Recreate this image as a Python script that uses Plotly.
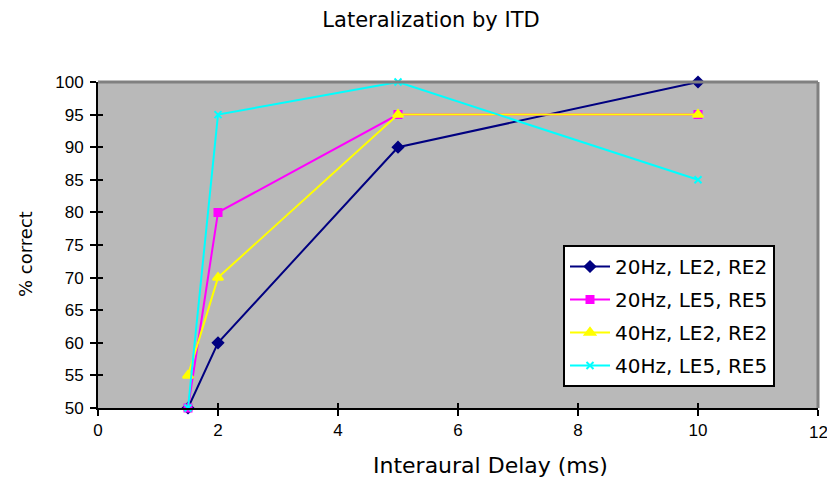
import plotly.graph_objects as go

x_vals = [1.5, 2, 5, 10]
s20_le2 = [50, 60, 90, 100]
s20_le5 = [50, 80, 95, 95]
s40_le2 = [55, 70, 95, 95]
s40_le5 = [50, 95, 100, 85]

x_ticks = [0, 2, 4, 6, 8, 10, 12]

names = ["20Hz, LE2, RE2", "20Hz, LE5, RE5", "40Hz, LE2, RE2", "40Hz, LE5, RE5"]
colors = ["#000080", "#ff00ff", "#ffff00", "#00ffff"]
symbols = ["diamond", "square", "triangle-up", "x-thin"]
sizes = [8, 7, 9, 7]
series = [s20_le2, s20_le5, s40_le2, s40_le5]

TXT = "DejaVu Sans, Verdana, sans-serif"
NUM = "Liberation Sans Narrow, Arial Narrow, Liberation Sans, sans-serif"

fig = go.Figure()
for i, (n, c, s, sz, y) in enumerate(zip(names, colors, symbols, sizes, series)):
    fig.add_trace(go.Scatter(
        x=x_vals, y=y, name=n, mode="lines+markers", legendgroup="g%d" % i,
        line=dict(color=c, width=2),
        marker=dict(symbol=s, size=sz, color=c, line=dict(color=c, width=2)),
        cliponaxis=False,
    ))

axis_common = dict(showgrid=False, zeroline=False, showline=True, linecolor="black",
                   linewidth=2, tickcolor="black", tickwidth=2, automargin=False)

L, R, T, B = 98, 9, 82, 83
PW, PH = 827 - L - R, 491 - T - B

fig.update_layout(
    width=827, height=491,
    margin=dict(l=L, r=R, t=T, b=B),
    paper_bgcolor="white",
    plot_bgcolor="#b9b9b9",
    font=dict(family=TXT, size=14, color="black"),
    title=dict(text="Lateralization by ITD", x=431/827, xanchor="center",
               y=1 - 20/491, yanchor="middle", font=dict(size=21, family=TXT)),
    xaxis=dict(range=[0, 12], tickvals=x_ticks, ticks="outside", ticklen=6,
               tickfont=dict(family=NUM, size=17), **axis_common),
    yaxis=dict(range=[50, 100], dtick=5, ticks="outside", ticklen=6,
               tickfont=dict(family=NUM, size=17), ticklabelstandoff=3, **axis_common),
    xaxis2=dict(range=[0, 12], tickvals=x_ticks, ticks="inside", ticklen=5,
                showticklabels=False, overlaying="x", side="bottom", **axis_common),
    yaxis2=dict(range=[50, 100], dtick=5, ticks="inside", ticklen=5,
                showticklabels=False, overlaying="y", side="left", **axis_common),
    legend=dict(x=(563 - L) / PW, y=(408 - 245) / PH, xanchor="left", yanchor="top",
                bgcolor="white", bordercolor="black", borderwidth=2,
                font=dict(size=20, family=TXT), itemwidth=40, tracegroupgap=4),
    showlegend=True,
)
fig.add_trace(go.Scatter(x=[None], y=[None], xaxis="x2", yaxis="y2", showlegend=False,
                         hoverinfo="skip"))
fig.add_shape(type="line", xref="paper", yref="paper", x0=0, y0=1, x1=1, y1=1,
              line=dict(color="#808080", width=3))
fig.add_shape(type="line", xref="paper", yref="paper", x0=1, y0=0, x1=1, y1=1,
              line=dict(color="#808080", width=3))
# last x tick label (plotly drops it at the paper edge)
fig.add_annotation(x=x_ticks[-1], xref="x", y=0, yref="paper", yshift=-24, text=str(x_ticks[-1]),
                   showarrow=False, xanchor="center", yanchor="middle",
                   font=dict(family=NUM, size=17))
# axis titles
fig.add_annotation(x=451/827, xref="paper", y=-(465 - 408) / PH, yref="paper",
                   text="Interaural Delay (ms)", showarrow=False, xanchor="center",
                   yanchor="middle", font=dict(size=22, family=TXT))
fig.add_annotation(x=-(98 - 25) / PW, xref="paper", y=(408 - 254) / PH, yref="paper",
                   text="% correct", showarrow=False, textangle=-90, xanchor="center",
                   yanchor="middle", font=dict(size=18, family=TXT))

fig.write_html("out.html")
